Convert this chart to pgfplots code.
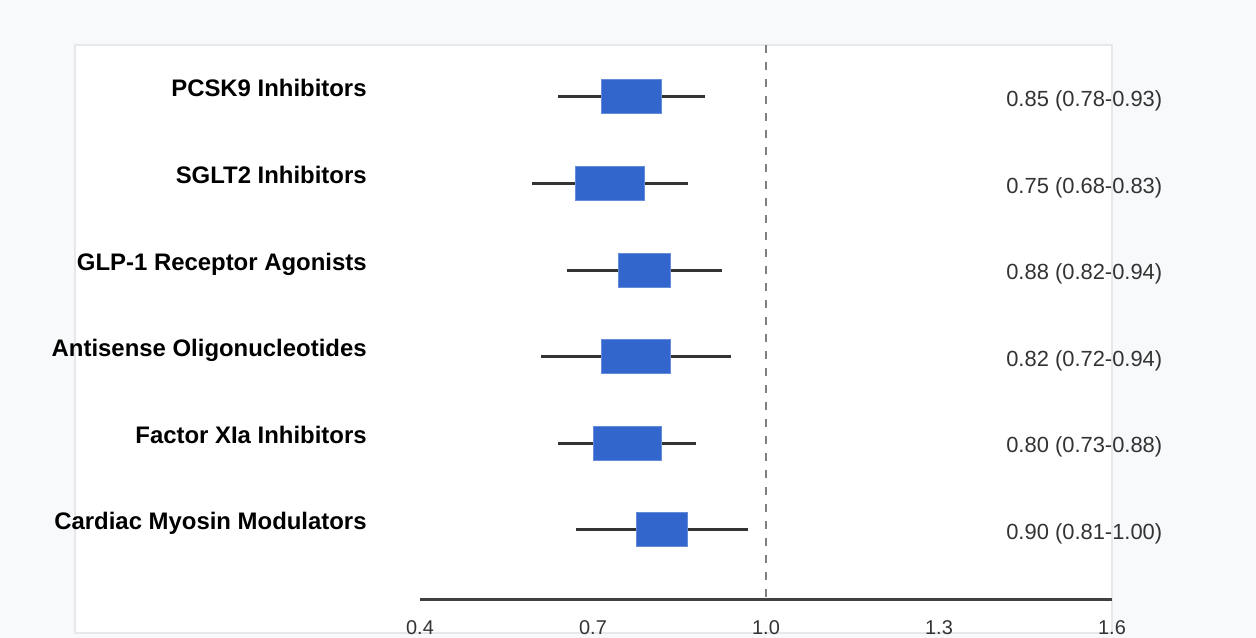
\documentclass[border=0pt]{standalone}
\usepackage{fontspec}
\setmainfont{Liberation Sans}
\usepackage{pgfplots}
\pgfplotsset{compat=1.18}
\definecolor{bg}{HTML}{F8F9FA}
\definecolor{panelborder}{HTML}{E6E8EB}
\definecolor{boxblue}{HTML}{3366CC}
\definecolor{whisk}{HTML}{333333}
\definecolor{axisgray}{HTML}{404040}
\definecolor{refgray}{HTML}{808080}
\definecolor{txtgray}{HTML}{333333}
\begin{document}
\begin{tikzpicture}
\begin{scope}[x=0.5bp,y=-0.5bp]
\fill[bg] (0,0) rectangle (1256,638);
\fill[white] (75,45) rectangle (1112,633);
\draw[panelborder, line width=0.9bp] (75,45) rectangle (1112,633);
\end{scope}
\begin{axis}[
  at={(210bp,-22.5bp)}, anchor=north west,
  scale only axis, width=346bp, height=277bp,
  xmin=0.4, xmax=1.6, ymin=0.2, ymax=6.6,
  axis line style={draw=none},
  major tick length=0pt,
  clip=false,
  xtick={0.4,0.7,1.0,1.3,1.6},
  xticklabels={0.4,0.7,1.0,1.3,1.6},
  xticklabel style={anchor=base, yshift=-17.5bp, font=\fontsize{10}{12}\selectfont, text=txtgray},
  ytick={1,2,3,4,5,6},
  yticklabels={Cardiac Myosin Modulators,Factor XIa Inhibitors,Antisense Oligonucleotides,GLP-1 Receptor Agonists,SGLT2 Inhibitors,PCSK9 Inhibitors},
  yticklabel style={anchor=base east, inner sep=0pt, xshift=-26.5bp, font=\bfseries\fontsize{12}{14}\selectfont, text=black},
  /pgf/number format/assume math mode=true,
]
% reference line
\draw[refgray, line width=1.4bp, dash pattern=on 4bp off 4.5bp] (axis cs:1.0,6.6) -- (axis cs:1.0,0.2);
% axis line
\draw[axisgray, line width=1.5bp] (axis cs:0.4,0.2) -- (axis cs:1.6,0.2);
% whiskers
\addplot[whisk, line width=1.5bp] coordinates {(0.640,6) (0.894,6)};
\addplot[whisk, line width=1.5bp] coordinates {(0.595,5) (0.864,5)};
\addplot[whisk, line width=1.5bp] coordinates {(0.655,4) (0.924,4)};
\addplot[whisk, line width=1.5bp] coordinates {(0.610,3) (0.939,3)};
\addplot[whisk, line width=1.5bp] coordinates {(0.640,2) (0.879,2)};
\addplot[whisk, line width=1.5bp] coordinates {(0.670,1) (0.969,1)};
% boxes
\addplot[fill=boxblue, draw=boxblue!75!white, line width=0.5bp] coordinates {(0.714,5.804) (0.819,5.804) (0.819,6.196) (0.714,6.196)} -- cycle;
\addplot[fill=boxblue, draw=boxblue!75!white, line width=0.5bp] coordinates {(0.670,4.804) (0.789,4.804) (0.789,5.196) (0.670,5.196)} -- cycle;
\addplot[fill=boxblue, draw=boxblue!75!white, line width=0.5bp] coordinates {(0.745,3.804) (0.834,3.804) (0.834,4.196) (0.745,4.196)} -- cycle;
\addplot[fill=boxblue, draw=boxblue!75!white, line width=0.5bp] coordinates {(0.714,2.804) (0.834,2.804) (0.834,3.196) (0.714,3.196)} -- cycle;
\addplot[fill=boxblue, draw=boxblue!75!white, line width=0.5bp] coordinates {(0.700,1.804) (0.819,1.804) (0.819,2.196) (0.700,2.196)} -- cycle;
\addplot[fill=boxblue, draw=boxblue!75!white, line width=0.5bp] coordinates {(0.775,0.804) (0.864,0.804) (0.864,1.196) (0.775,1.196)} -- cycle;
% value labels
\begin{scope}[every node/.style={anchor=base west, inner sep=0pt, yshift=-4.9bp, font=\fontsize{11}{13}\selectfont, text=txtgray}]
\node at (axis cs:1.416,6) {0.85 (0.78-0.93)};
\node at (axis cs:1.416,5) {0.75 (0.68-0.83)};
\node at (axis cs:1.416,4) {0.88 (0.82-0.94)};
\node at (axis cs:1.416,3) {0.82 (0.72-0.94)};
\node at (axis cs:1.416,2) {0.80 (0.73-0.88)};
\node at (axis cs:1.416,1) {0.90 (0.81-1.00)};
\end{scope}
\end{axis}
\pgfresetboundingbox
\path (0,0) rectangle (628bp,-319bp);
\end{tikzpicture}
\end{document}
